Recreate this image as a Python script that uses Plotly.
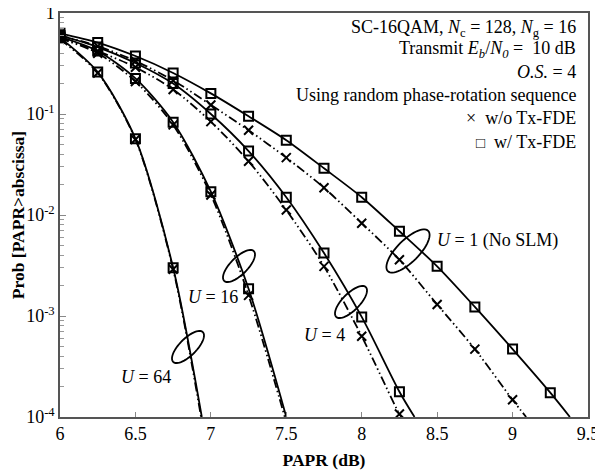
import numpy as np
import plotly.graph_objects as go

# ---------------- data ----------------
papr = [6.0, 6.25, 6.5, 6.75, 7.0, 7.25, 7.5, 7.75, 8.0, 8.25, 8.5, 8.75, 9.0, 9.25]

u1_w = [0.63, 0.51, 0.375, 0.255, 0.16, 0.095, 0.055, 0.029, 0.015, 0.0069, 0.0031, 0.00123, 0.00047, 0.000174]
u1_wo = [0.60, 0.47, 0.335, 0.215, 0.123, 0.069, 0.037, 0.0186, 0.0083, 0.0036, 0.0013, 0.00047, 0.000148]
u4_w = [0.60, 0.46, 0.32, 0.20, 0.10, 0.043, 0.015, 0.0042, 0.00098, 0.000178]
u4_wo = [0.57, 0.42, 0.29, 0.175, 0.084, 0.034, 0.0112, 0.0031, 0.00063, 0.000107]
u16_w = [0.58, 0.42, 0.225, 0.083, 0.017, 0.00186]
u16_wo = [0.56, 0.40, 0.21, 0.078, 0.0158, 0.0016]
u64_w = [0.57, 0.26, 0.057, 0.003]
u64_wo = [0.55, 0.255, 0.056, 0.0029]

# PAPR where each simulated curve reaches 1e-4 (end of drawn line)
end_x = {"u1_w": 9.38, "u1_wo": 9.09, "u4_w": 8.35, "u4_wo": 8.265,
         "u16_w": 7.50, "u16_wo": 7.49, "u64_w": 6.94, "u64_wo": 6.935}
floor_p = 1e-4

series = [("u1_w", u1_w, True), ("u1_wo", u1_wo, False),
          ("u4_w", u4_w, True), ("u4_wo", u4_wo, False),
          ("u16_w", u16_w, True), ("u16_wo", u16_wo, False),
          ("u64_w", u64_w, True), ("u64_wo", u64_wo, False)]

y_ticks = [1e-4, 1e-3, 1e-2, 1e-1, 1]
y_ticktext = ["10<sup>-4</sup>", "10<sup>-3</sup>", "10<sup>-2</sup>", "10<sup>-1</sup>", "1"]
x_ticks = [6, 6.5, 7, 7.5, 8, 8.5, 9, 9.5]
x_ticktext = ["6", "6.5", "7", "7.5", "8", "8.5", "9", "9.5"]

# ---------------- figure ----------------
OFF = 8  # page body margin in the browser
W, H = 603 - OFF, 476 - OFF
L, R, T, B = 60 - OFF, 15, 13 - OFF, 59
pw, ph = W - L - R, H - T - B
FONT = "Liberation Serif"
FS = 18

def px2paper(px, py):
    return (px - OFF - L) / pw, (H + OFF - B - py) / ph

fig = go.Figure()
dash_ddot = "9px,3px,1.5px,3px,1.5px,3px"

for name, vals, with_fde in series:
    xs = papr[:len(vals)]
    fig.add_trace(go.Scatter(
        x=xs + [end_x[name]], y=vals + [floor_p], mode="lines",
        line=dict(color="black", width=1.8, shape="spline", smoothing=0.8,
                  dash="solid" if with_fde else dash_ddot),
        showlegend=False, hoverinfo="skip"))
    fig.add_trace(go.Scatter(
        x=xs, y=vals, mode="markers",
        marker=dict(symbol="square-open" if with_fde else "x-thin-open",
                    size=9, color="black",
                    line=dict(width=2, color="black")),
        showlegend=False))

fig.update_layout(
    width=W, height=H,
    margin=dict(l=L, r=R, t=T, b=B, autoexpand=False),
    paper_bgcolor="white", plot_bgcolor="white",
    font=dict(family=FONT, size=FS, color="black"),
    showlegend=False,
)
fig.update_xaxes(
    range=[6, 9.5], tickvals=x_ticks, ticktext=x_ticktext, automargin=False,
    ticklabeloverflow="allow",
    ticks="inside", ticklen=5, tickcolor="#888",
    showline=True, linecolor="#555", linewidth=1.5, mirror=True,
    showgrid=False, zeroline=False,
    tickfont=dict(family=FONT, size=18),
    title=dict(text="<b>PAPR (dB)</b>", font=dict(family=FONT, size=17.5), standoff=10),
)
fig.update_yaxes(
    type="log", range=[-4, 0], tickvals=y_ticks, ticktext=y_ticktext, automargin=False,
    ticklabeloverflow="allow",
    ticks="inside", ticklen=6, tickcolor="#888",
    minor=dict(ticks="inside", ticklen=4, tickcolor="#999", dtick="D1"),
    showline=True, linecolor="#555", linewidth=1.5, mirror=True,
    showgrid=False, zeroline=False,
    tickfont=dict(family=FONT, size=18),
    title=dict(text="<b>Prob [PAPR>abscissa]</b>", font=dict(family=FONT, size=17.5), standoff=2),
)

# ---------------- text box (top right) ----------------
info_lines = [
    ("SC-16QAM, <i>N</i><sub>c</sub> = 128, <i>N</i><sub>g</sub> = 16", 28),
    ("Transmit <i>E</i><sub><i>b</i></sub>/<i>N</i><sub><i>0</i></sub> =  10 dB", 50),
    ("<i>O.S.</i> = 4", 72),
    ("Using random phase-rotation sequence", 95),
    ("×  w/o Tx-FDE", 118),
    ("<span style='font-size:15px'>□</span>  w/ Tx-FDE", 142),
]
for txt, py in info_lines:
    xp, yp = px2paper(578, py)
    fig.add_annotation(text=txt, x=xp, y=yp, xref="paper", yref="paper",
                       xanchor="right", yanchor="middle", showarrow=False,
                       font=dict(family=FONT, size=FS))

# ---------------- U labels and ellipses ----------------
u_labels = [
    ("<i>U</i> = 1 (No SLM)", 435, 240, "left"),
    ("<i>U</i> = 4", 347, 335, "right"),
    ("<i>U</i> = 16", 240, 297, "right"),
    ("<i>U</i> = 64", 173, 377, "right"),
]
for txt, px, py, anc in u_labels:
    xp, yp = px2paper(px, py)
    fig.add_annotation(text=txt, x=xp, y=yp, xref="paper", yref="paper",
                       xanchor=anc, yanchor="middle", showarrow=False,
                       font=dict(family=FONT, size=FS))

ellipses = [(408, 251, 28.5, 11), (351, 302, 21, 8.5), (239, 266, 21, 8.5), (188, 347, 21, 8.5)]
theta = np.linspace(0, 2 * np.pi, 61)
ang = np.deg2rad(45)
for cx, cy, a, b in ellipses:
    ex = cx + a * np.cos(theta) * np.cos(ang) - b * np.sin(theta) * np.sin(ang)
    ey = cy - (a * np.cos(theta) * np.sin(ang) + b * np.sin(theta) * np.cos(ang))
    pts = [px2paper(x, y) for x, y in zip(ex, ey)]
    path = "M " + " L ".join(f"{x:.5f},{y:.5f}" for x, y in pts) + " Z"
    fig.add_shape(type="path", path=path, xref="paper", yref="paper",
                  line=dict(color="black", width=1.8))

fig.write_html("out.html")
